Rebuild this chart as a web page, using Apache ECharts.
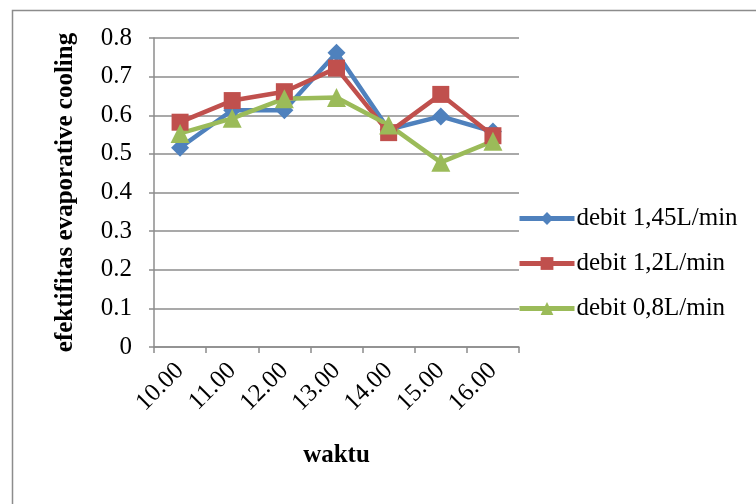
<!DOCTYPE html>
<html>
<head>
<meta charset="utf-8">
<script src="https://cdn.jsdelivr.net/npm/echarts@6/dist/echarts.min.js"></script>
<style>html,body{margin:0;padding:0;background:#fff}#c{width:756px;height:504px}</style>
</head>
<body>
<div id="c"></div>
<script>
var categories = ["10.00", "11.00", "12.00", "13.00", "14.00", "15.00", "16.00"];
var seriesNames = ["debit 1,45L/min", "debit 1,2L/min", "debit 0,8L/min"];
var debit145 = [0.516, 0.613, 0.613, 0.762, 0.563, 0.597, 0.558];
var debit12 = [0.582, 0.638, 0.661, 0.722, 0.555, 0.654, 0.547];
var debit08 = [0.553, 0.592, 0.643, 0.646, 0.575, 0.478, 0.533];
var yTicks = [0, 0.1, 0.2, 0.3, 0.4, 0.5, 0.6, 0.7, 0.8];

var font = "'Liberation Serif', 'Times New Roman', serif";
var chart = echarts.init(document.getElementById('c'), null, {renderer: 'canvas'});
var colors = ['#4F81BD', '#C0504D', '#9BBB59'];
function mk(name, data, sym, size, color) {
  return {
    name: name, type: 'line', data: data, symbol: sym, symbolSize: size,
    lineStyle: {width: 4.5, color: color}, itemStyle: {color: color},
    emphasis: {disabled: true}, animation: false
  };
}
chart.setOption({
  animation: false,
  textStyle: {fontFamily: font},
  graphic: [{
    type: 'rect', shape: {x: 12.5, y: 10.5, width: 900, height: 700},
    style: {fill: 'none', stroke: '#8c8c8c', lineWidth: 1.5}, silent: true, z: -1
  }],
  grid: {left: 154, right: 237, top: 38, bottom: 157, containLabel: false},
  legend: {
    orient: 'vertical', left: 512, top: 201, itemGap: 20,
    itemWidth: 55, itemHeight: 16,
    lineStyle: {width: 5},
    textStyle: {fontFamily: font, fontSize: 25, color: '#000', padding: [0,0,0,-3]},
    data: seriesNames
  },
  xAxis: {
    type: 'category', data: categories, boundaryGap: true,
    name: 'waktu', nameLocation: 'middle', nameGap: 96,
    nameTextStyle: {fontFamily: font, fontSize: 25, fontWeight: 'bold', color: '#000'},
    axisLine: {lineStyle: {color: '#8c8c8c', width: 1.5}},
    axisTick: {show: true, length: 6, inside: false, alignWithLabel: false, lineStyle: {color: '#8c8c8c', width: 1.5}},
    axisLabel: {rotate: 45, fontFamily: font, fontSize: 25, color: '#000', margin: 20, interval: 0}
  },
  yAxis: {
    type: 'value', min: 0, max: 0.8, interval: 0.1,
    name: 'efektifitas evaporative cooling', nameLocation: 'middle', nameGap: 76,
    nameTextStyle: {fontFamily: font, fontSize: 25, fontWeight: 'bold', color: '#000'},
    axisLine: {show: true, lineStyle: {color: '#8c8c8c', width: 1.5}},
    axisTick: {show: true, length: 5, lineStyle: {color: '#8c8c8c', width: 1.5}},
    splitLine: {show: true, lineStyle: {color: '#8c8c8c', width: 1.5}},
    axisLabel: {fontFamily: font, fontSize: 25, color: '#000', margin: 22,
      formatter: function(v){ var t = yTicks.filter(function(x){return Math.abs(x-v)<1e-9;}); return t.length ? String(t[0]) : ''; }}
  },
  series: [
    mk(seriesNames[0], debit145, 'diamond', 18, colors[0]),
    mk(seriesNames[1], debit12, 'rect', 17, colors[1]),
    mk(seriesNames[2], debit08, 'triangle', 19, colors[2])
  ]
});
</script>
</body>
</html>
